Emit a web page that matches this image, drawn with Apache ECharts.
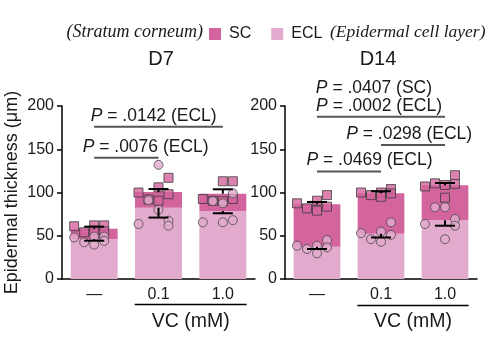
<!DOCTYPE html>
<html><head><meta charset="utf-8">
<script src="https://cdn.jsdelivr.net/npm/echarts@6/dist/echarts.min.js"></script>
<style>html,body{margin:0;padding:0;background:#fff}#c{width:490px;height:361px}</style>
</head><body><div id="c"></div>
<script>
// ---------- data ----------
const categories = ['—', '0.1', '1.0'];
const panelTitles = ['D7', 'D14'];
const groupLabel = 'VC (mM)';
const yTicks = [0, 50, 100, 150, 200];

// bar means (µm): ECL layer and SC layer stacked on top
const d7EclMean = [46, 82.5, 78.6];
const d7ScMean = [12, 18, 20];
const d14EclMean = [37.2, 52.2, 67.8];
const d14ScMean = [49.3, 47, 40.6];

// error bar ends (total: upward, ECL: downward)
const d7TotalCap = [60.5, 104, 103.7];
const d7EclCap = [44.3, 71, 76];
const d14TotalCap = [89, 101.5, 111];
const d14EclCap = [34.7, 48, 61.6];

// individual points: squares = total (SC), circles = ECL
const d7ScPoints = [[61, 54, 62, 62, 56, 55], [100, 92, 106, 117, 90.5, 98], [92.5, 90.5, 113, 113, 90, 92.5]];
const d7EclPoints = [[48, 42.4, 49, 49, 39.7, 44], [63.6, 91, 132, 67.4, 80, 61.6], [65.5, 90, 87.5, 99, 65.5, 68]];
const d14ScPoints = [[87.5, 81.7, 90.5, 97, 79, 83.6], [100, 97, 100, 104, 95, 99], [107, 110.6, 108.7, 110, 94, 120]];
const d14EclPoints = [[38.5, 34.7, 38.5, 45, 29.7, 36.6], [53, 46, 54.7, 65.5, 43, 51], [63.6, 83, 83, 69.4, 46, 61.6]];

// significance: [fromCat, toCat, level(µm), labelCenter(cat units), drawLine]
const d7SigLevels = [[0, 2, 176, 0.925, 1], [0, 1, 140.2, 0.80, 1]];
const d7SigTexts = ['.0142 (ECL)', '.0076 (ECL)'];
const d14SigLevels = [[0, 2, 208, 0.89, 0], [0, 2, 187.6, 0.97, 1], [1, 2, 155, 1.44, 1], [0, 1, 124.3, 0.82, 1]];
const d14SigTexts = ['.0407 (SC)', '.0002 (ECL)', '.0298 (ECL)', '.0469 (ECL)'];

// ---------- chart ----------
const FONT = "'Liberation Sans', Arial, sans-serif";
const SC_COLOR = '#d3649e';
const ECL_COLOR = '#e2aacd';
const TXT = '#1a1a1a';
const cols = [0, 1, 2, 3, 2, 3];

const chart = echarts.init(document.getElementById('c'));

const grids = [
  { left: 62, top: 106, width: 193, height: 173 },
  { left: 285, top: 106, width: 192, height: 173 }
];

const xAxes = [], yAxes = [];
for (let g = 0; g < 2; g++) {
  xAxes.push({
    type: 'category', gridIndex: g, data: categories,
    axisLine: { onZero: false, lineStyle: { color: '#000', width: 1.5 } },
    axisTick: { show: false },
    axisLabel: { fontSize: 16, fontFamily: FONT, color: TXT, margin: 8 }
  });
  xAxes.push({ type: 'value', gridIndex: g, min: -0.5, max: 2.5, show: false });
  yAxes.push({
    type: 'value', gridIndex: g, min: yTicks[0], max: yTicks[yTicks.length - 1], interval: 50,
    name: g === 0 ? 'Epidermal thickness (μm)' : '',
    nameLocation: 'middle', nameGap: 41,
    nameTextStyle: { fontSize: 18, fontFamily: FONT, color: TXT },
    axisLine: { show: true, onZero: false, lineStyle: { color: '#000', width: 1.5 } },
    axisTick: { show: true, length: 5, lineStyle: { color: '#000', width: 1.5 } },
    axisLabel: { fontSize: 16, fontFamily: FONT, color: TXT, margin: 8 },
    splitLine: { show: false }
  });
}

function panelSeries(g, eclMean, scMean, totalCap, eclCap, scPts, eclPts, sigLv, sigTx) {
  const catX = g * 2, valX = g * 2 + 1;
  const out = [];
  out.push({ type: 'bar', name: 'ECL', xAxisIndex: catX, yAxisIndex: g, stack: 'p' + g, data: eclMean,
    barWidth: '73%', itemStyle: { color: ECL_COLOR }, z: 2, silent: true });
  out.push({ type: 'bar', name: 'SC', xAxisIndex: catX, yAxisIndex: g, stack: 'p' + g, data: scMean,
    barWidth: '73%', itemStyle: { color: SC_COLOR }, z: 2, silent: true });
  const sq = [], ci = [];
  scPts.forEach((arr, k) => arr.forEach((v, i) => sq.push({ value: [k, v], symbolOffset: [(cols[i] - 2) * 10, 0] })));
  eclPts.forEach((arr, k) => arr.forEach((v, i) => ci.push({ value: [k, v], symbolOffset: [(cols[i] - 2) * 10, 0] })));
  out.push({ type: 'scatter', name: 'sc-pts' + g, xAxisIndex: valX, yAxisIndex: g, data: sq, symbol: 'rect', symbolSize: 9,
    itemStyle: { color: SC_COLOR, borderColor: '#3c3c3c', borderWidth: 1 }, z: 3, silent: true });
  out.push({ type: 'scatter', name: 'ecl-pts' + g, xAxisIndex: valX, yAxisIndex: g, data: ci, symbol: 'circle', symbolSize: 9,
    itemStyle: { color: ECL_COLOR, borderColor: '#4a4a4a', borderWidth: 1 }, z: 3, silent: true });
  const err = [];
  for (let k = 0; k < 3; k++) {
    err.push([k, eclMean[k] + scMean[k], totalCap[k]]);
    err.push([k, eclMean[k], eclCap[k]]);
  }
  out.push({ type: 'custom', name: 'err' + g, xAxisIndex: valX, yAxisIndex: g, data: err, z: 4, silent: true, clip: false,
    renderItem: (p, api) => {
      const a = api.coord([api.value(0), api.value(1)]);
      const b = api.coord([api.value(0), api.value(2)]);
      const st = { stroke: '#000', lineWidth: 2 };
      return { type: 'group', children: [
        { type: 'line', shape: { x1: a[0], y1: a[1], x2: b[0], y2: b[1] }, style: st },
        { type: 'line', shape: { x1: b[0] - 10, y1: b[1], x2: b[0] + 10, y2: b[1] }, style: st }
      ] };
    } });
  out.push({ type: 'custom', name: 'sig' + g, xAxisIndex: valX, yAxisIndex: g, data: sigLv, z: 5, silent: true, clip: false,
    renderItem: (p, api) => {
      const i = p.dataIndex;
      const a = api.coord([api.value(0), api.value(2)]);
      const b = api.coord([api.value(1), api.value(2)]);
      const c = api.coord([api.value(3), api.value(2)]);
      const ch = [];
      if (api.value(4)) ch.push({ type: 'line', shape: { x1: a[0], y1: a[1], x2: b[0], y2: b[1] }, style: { stroke: '#555', lineWidth: 2 } });
      ch.push({ type: 'text', x: c[0], y: c[1] - 11, style: {
        text: '{i|P} = ' + sigTx[i], align: 'center', verticalAlign: 'middle',
        fontSize: 17.5, fontFamily: FONT, fill: TXT,
        rich: { i: { fontStyle: 'italic', fontSize: 17.5, fontFamily: FONT, fill: TXT } } } });
      return { type: 'group', children: ch };
    } });
  out.push({ type: 'custom', name: 'grp' + g, xAxisIndex: valX, yAxisIndex: g, data: [[1, 2]], z: 5, silent: true, clip: false,
    renderItem: (p, api) => {
      const y0 = api.coord([0, 0])[1];
      const a = api.coord([api.value(0) - 0.37, 0])[0];
      const b = api.coord([api.value(1) + 0.37, 0])[0];
      return { type: 'group', children: [
        { type: 'line', shape: { x1: a, y1: y0 + 25.5 + g, x2: b, y2: y0 + 25.5 + g }, style: { stroke: '#000', lineWidth: 1.5 } },
        { type: 'text', x: (a + b) / 2, y: y0 + 43, style: { text: groupLabel, align: 'center', verticalAlign: 'middle',
          fontSize: 19.5, fontFamily: FONT, fill: TXT } }
      ] };
    } });
  return out;
}

const series = [].concat(
  panelSeries(0, d7EclMean, d7ScMean, d7TotalCap, d7EclCap, d7ScPoints, d7EclPoints, d7SigLevels, d7SigTexts),
  panelSeries(1, d14EclMean, d14ScMean, d14TotalCap, d14EclCap, d14ScPoints, d14EclPoints, d14SigLevels, d14SigTexts)
);

chart.setOption({
  animation: false,
  backgroundColor: '#fff',
  grid: grids,
  xAxis: xAxes,
  yAxis: yAxes,
  legend: {
    data: [{ name: 'SC', icon: 'rect' }, { name: 'ECL', icon: 'rect' }],
    left: 209, top: 26, padding: 0, itemWidth: 12, itemHeight: 12, itemGap: 20,
    textStyle: { fontSize: 16, fontFamily: FONT, color: TXT, padding: [0, 0, 0, 3] },
    selectedMode: false
  },
  graphic: [
    { type: 'text', x: 203, y: 32, style: { text: '(Stratum corneum)', align: 'right', verticalAlign: 'middle',
      font: "italic 18px 'Liberation Serif', serif", fill: TXT } },
    { type: 'text', x: 330, y: 32, style: { text: '(Epidermal cell layer)', align: 'left', verticalAlign: 'middle',
      font: "italic 17.5px 'Liberation Serif', serif", fill: TXT } },
    { type: 'text', x: 161, y: 59, style: { text: panelTitles[0], align: 'center', verticalAlign: 'middle',
      fontSize: 20, fontFamily: FONT, fill: TXT } },
    { type: 'text', x: 378, y: 59, style: { text: panelTitles[1], align: 'center', verticalAlign: 'middle',
      fontSize: 20, fontFamily: FONT, fill: TXT } }
  ],
  series: series
});
</script>
</body></html>
